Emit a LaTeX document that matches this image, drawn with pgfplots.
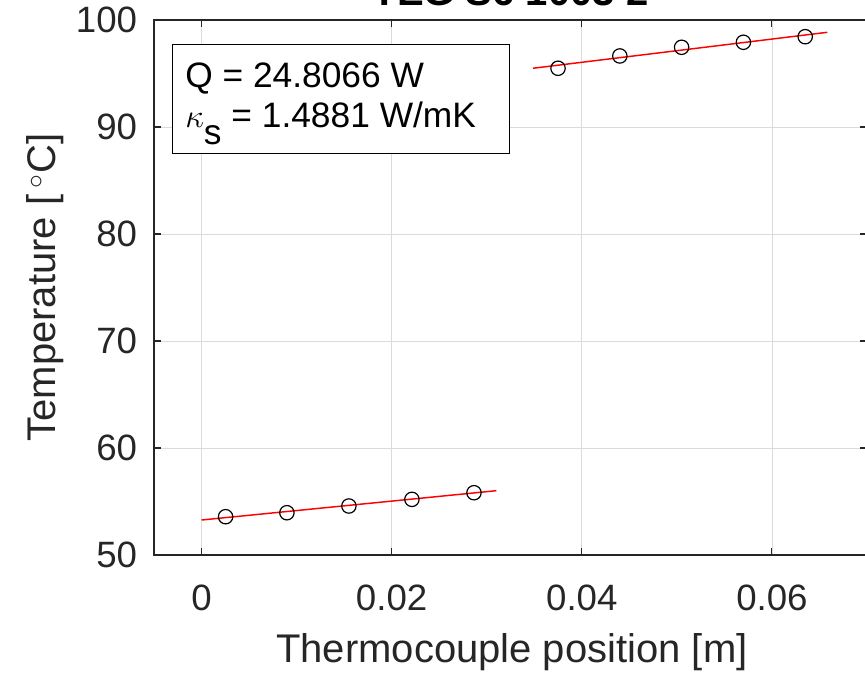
\documentclass[border=0pt]{standalone}
\usepackage{pgfplots}
\pgfplotsset{compat=1.18}
\usepackage{fontspec}
\setmainfont{Liberation Sans}
\definecolor{axgray}{gray}{0.15}
\definecolor{gridgray}{gray}{0.86}
\begin{document}
\begin{tikzpicture}
\begin{axis}[
  scale only axis,
  width=534.75pt, height=401.25pt,
  xmin=-0.005, xmax=0.07, ymin=50, ymax=100,
  scaled ticks=false,
  xtick={0,0.02,0.04,0.06},
  xticklabels={0,0.02,0.04,0.06},
  ytick={50,60,70,80,90,100},
  grid=major,
  major grid style={gridgray, line width=0.6pt},
  axis line style={axgray, line width=0.8pt},
  major tick style={axgray, line width=0.8pt},
  tick align=inside,
  major tick length=5pt,
  /pgf/number format/assume math mode=true,
  every tick label/.style={inner sep=0pt},
  tick label style={font=\fontsize{27.5}{30}\selectfont, text=axgray},
  yticklabel style={xshift=-12.5pt},
  xticklabel style={yshift=-22pt},
  xlabel={Thermocouple position [m]},
  ylabel={Temperature [\,$^{\circ}$C]},
  label style={font=\fontsize{30}{33}\selectfont, text=axgray},
  xlabel style={at={(axis description cs:0.502,-0.181)}, anchor=center},
  ylabel style={at={(axis description cs:-0.153,0.5)}, anchor=center},
  clip=false,
]
\addplot[red, line width=1.1pt] coordinates {(0.00000,53.27) (0.03102,56.01)};
\addplot[red, line width=1.1pt] coordinates {(0.03487,95.49) (0.06582,98.85)};
\addplot[only marks, mark=o, mark size=5.4pt, mark options={black, line width=0.9pt}] coordinates {
  (0.00253,53.58) (0.00898,53.95) (0.01550,54.58) (0.02213,55.20) (0.02866,55.82)};
\addplot[only marks, mark=o, mark size=5.4pt, mark options={black, line width=0.9pt}] coordinates {
  (0.03750,95.49) (0.04400,96.64) (0.05050,97.45) (0.05700,97.92) (0.06350,98.44)};
\draw[black, line width=0.8pt, fill=white] (rel axis cs:0.0266,0.955) rectangle (rel axis cs:0.498,0.751);
\node[anchor=base west, inner sep=0pt, font=\fontsize{26.5}{30}\selectfont] at (rel axis cs:0.0435,0.874) {Q = 24.8066 W};
\node[anchor=base west, inner sep=0pt, font=\fontsize{26.5}{30}\selectfont] at (rel axis cs:0.0435,0.7995) {$\kappa$\raisebox{-0.5em}{s} = 1.4881 W/mK};
\node[anchor=base, inner sep=0pt, font=\fontsize{30}{33}\selectfont\bfseries, text=black] at (axis description cs:0.5,1.028) {TEG S6 1003 2};
\coordinate (sw) at (rel axis cs:0,0);
\end{axis}
\pgfresetboundingbox
\path[use as bounding box] ([shift={(-115.5pt,-90pt)}]sw) rectangle ([shift={(533.25pt,416.25pt)}]sw);
\end{tikzpicture}
\end{document}
